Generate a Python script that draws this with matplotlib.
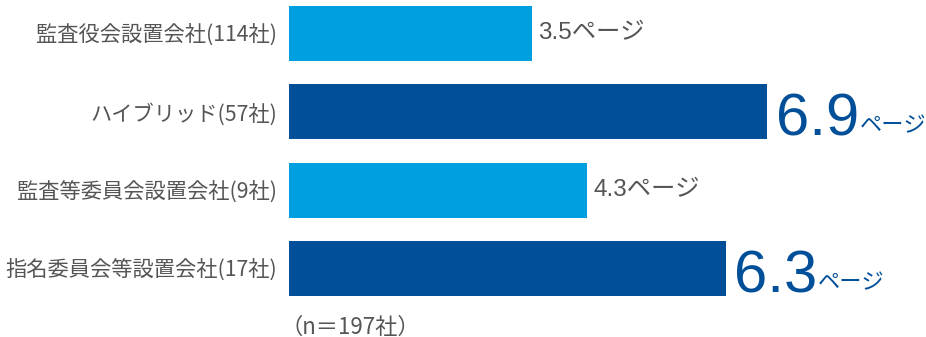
import matplotlib.pyplot as plt

# data
categories = ["監査役会設置会社(114社)", "ハイブリッド(57社)",
              "監査等委員会設置会社(9社)", "指名委員会等設置会社(17社)"]
pages = [3.5, 6.9, 4.3, 6.3]
highlight = [False, True, False, True]
note = "（n＝197社）"

light_blue = "#009fdf"
dark_blue = "#004f98"
gray = "#555555"

plt.rcParams['font.family'] = ['Noto Sans CJK JP', 'DejaVu Sans']

fig = plt.figure(figsize=(9.26, 3.37), dpi=100)
ax = fig.add_axes([289 / 926, 0, 1 - 289 / 926, 1])

pos = list(range(len(categories)))
colors = [dark_blue if h else light_blue for h in highlight]
ax.barh(pos, pages, height=0.70, color=colors)

ax.set_xlim(0, 9.19)
ax.set_ylim(3.875, -0.428)
ax.set_yticks(pos)
ax.set_yticklabels(categories, fontsize=15.3, color=gray)
ax.tick_params(axis='y', length=0, pad=8.5)
ax.set_xticks([])
for s in ax.spines.values():
    s.set_visible(False)

num_font = ['Liberation Sans', 'Noto Sans CJK JP']
big_nums = []
for i, (v, h) in enumerate(zip(pages, highlight)):
    if h:
        t = ax.annotate(f"{v:.1f}", xy=(v, i), xytext=(6, -17),
                        textcoords='offset points', va='baseline', ha='left',
                        fontsize=43, color=dark_blue, family=num_font)
        big_nums.append((t, i))
    else:
        ax.annotate(f"{v:.1f}ページ", xy=(v, i), xytext=(4.5, -4),
                    textcoords='offset points', va='baseline', ha='left',
                    fontsize=17.5, color=gray, family=num_font)

for t, i in big_nums:
    ax.annotate("ページ", xy=(1, i), xycoords=(t, 'data'), xytext=(0.5, -15),
                textcoords='offset points', va='baseline', ha='left',
                fontsize=16, color=dark_blue, family=num_font)

fig.text(280 / 926, 1 - 327 / 337, note, fontsize=16, color=gray,
         ha='left', va='center')

fig.savefig("out.png", dpi=100)
